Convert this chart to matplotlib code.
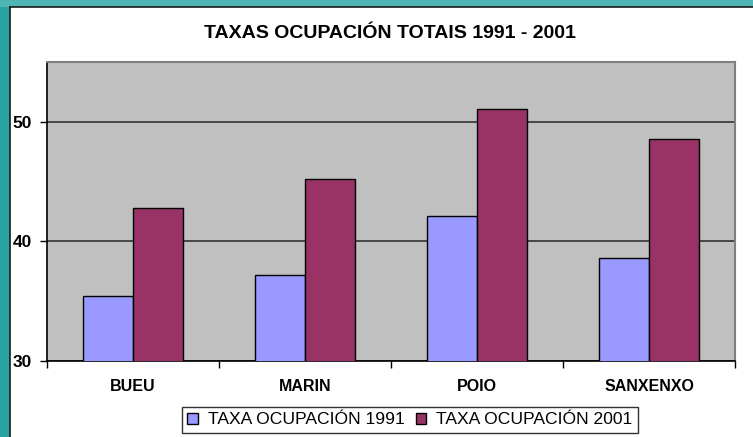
import matplotlib
matplotlib.use("Agg")
import matplotlib.pyplot as plt
import numpy as np
from matplotlib.patches import Rectangle

categories = ["BUEU", "MARIN", "POIO", "SANXENXO"]
series_names = ["TAXA OCUPACIÓN 1991", "TAXA OCUPACIÓN 2001"]
values_1991 = [35.4, 37.2, 42.1, 38.6]
values_2001 = [42.8, 45.2, 51.1, 48.6]
y_ticks = [30, 40, 50]
title = "TAXAS OCUPACIÓN TOTAIS 1991 - 2001"

plt.rcParams['font.family'] = ['Liberation Sans', 'DejaVu Sans']

W, H = 753, 437
fig = plt.figure(figsize=(W / 100, H / 100), dpi=100)
fig.patch.set_facecolor("white")

# teal frame (left and top)
fig.patches.append(Rectangle((0, 0), 10 / W, 1, transform=fig.transFigure,
                             facecolor="#2aa3a3", edgecolor="none", zorder=0))
fig.patches.append(Rectangle((0, 1 - 7 / H), 1, 7 / H, transform=fig.transFigure,
                             facecolor="#4fb6b6", edgecolor="none", zorder=0))
fig.add_artist(plt.Line2D([10 / W, 10 / W], [0, 1 - 7 / H], transform=fig.transFigure,
                          color="#1a1a1a", lw=1.2))
fig.add_artist(plt.Line2D([10 / W, 1.01], [1 - 7 / H, 1 - 7 / H], transform=fig.transFigure,
                          color="#1a1a1a", lw=1.2))

ax = fig.add_axes([47 / W, (H - 361) / H, 688 / W, 299 / H])
ax.set_facecolor("#C0C0C0")

x = np.arange(len(categories))
bw = 0.29
ax.bar(x - bw / 2, values_1991, bw, color="#9999FF", edgecolor="black",
       linewidth=1, label=series_names[0], zorder=3)
ax.bar(x + bw / 2, values_2001, bw, color="#993366", edgecolor="black",
       linewidth=1, label=series_names[1], zorder=3)

ax.set_ylim(30, 55)
ax.set_xlim(-0.5, len(categories) - 0.5)
ax.set_yticks(y_ticks)
ax.set_yticklabels([str(t) for t in y_ticks], fontsize=12.5, fontweight="bold")
ax.yaxis.grid(True, color="#333333", lw=1.2, zorder=1)
ax.set_axisbelow(True)

ax.set_xticks(x)
ax.set_xticklabels(categories, fontsize=11.5, fontweight="bold")
ax.tick_params(axis="x", length=0, pad=13)
ax.set_xticks(np.arange(len(categories) + 1) - 0.5, minor=True)
ax.tick_params(axis="x", which="minor", length=5, width=1, direction="out")
ax.tick_params(axis="y", length=5, width=1, direction="out", pad=6)

for s in ["top", "right"]:
    ax.spines[s].set_color("#808080")
    ax.spines[s].set_linewidth(1.5)
for s in ["left", "bottom"]:
    ax.spines[s].set_color("black")
    ax.spines[s].set_linewidth(1.2)

fig.text(390 / W, 1 - 33 / H, title, ha="center", va="center", fontsize=14,
         fontweight="bold")

leg = fig.legend(loc="upper left", bbox_to_anchor=(182 / W, 1 - 407 / H), ncol=2,
                 frameon=True, fancybox=False, edgecolor="black", fontsize=12.6,
                 handlelength=0.6, handleheight=0.6, handletextpad=0.6,
                 columnspacing=0.6, borderpad=0.3, borderaxespad=0)
leg.get_frame().set_linewidth(1)

fig.savefig("out.png", dpi=100)
